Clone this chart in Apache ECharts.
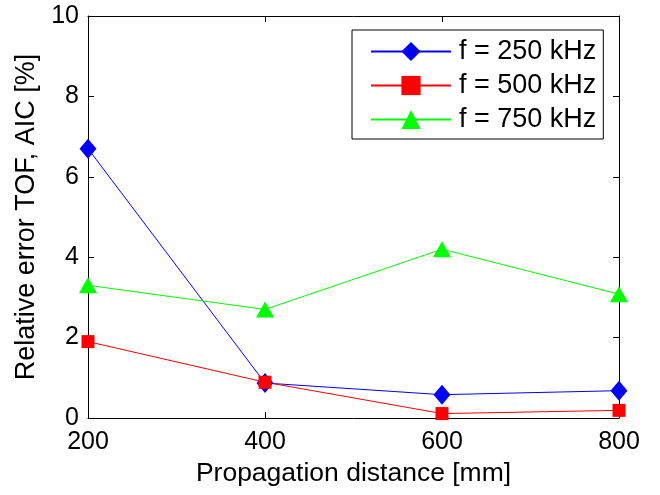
<!DOCTYPE html>
<html>
<head>
<meta charset="utf-8">
<script src="https://cdn.jsdelivr.net/npm/echarts@6/dist/echarts.min.js"></script>
<style>
html, body { margin: 0; padding: 0; background: #fff; }
#chart { width: 660px; height: 495px; }
</style>
</head>
<body>
<div id="chart"></div>
<script>
var distances = [200, 400, 600, 800];
var f250 = [6.7, 0.87, 0.58, 0.68];
var f500 = [1.9, 0.89, 0.11, 0.19];
var f750 = [3.3, 2.7, 4.2, 3.08];
var seriesNames = ['f = 250 kHz', 'f = 500 kHz', 'f = 750 kHz'];

function pairs(vals) {
	return distances.map(function(d, i) {
		return [d, vals[i]];
	});
}

var font = 'Liberation Sans, Arial, sans-serif';
var chart = echarts.init(document.getElementById('chart'));

var axisBase = {
	type: 'value',
	axisLine: { show: true, onZero: false, lineStyle: { color: '#000', width: 1 } },
	axisTick: { show: true, inside: true, length: 6, lineStyle: { color: '#000' } },
	splitLine: { show: false }
};

chart.setOption({
	animation: false,
	backgroundColor: '#fff',
	grid: { left: 88, right: 41, top: 16, bottom: 77 },
	legend: {
		data: seriesNames,
		orient: 'vertical',
		left: 352,
		top: 30,
		itemWidth: 80,
		itemHeight: 24,
		itemGap: 7,
		padding: [8, 7, 6, 18],
		backgroundColor: '#fff',
		borderColor: '#000',
		borderWidth: 1,
		borderRadius: 0,
		textStyle: { fontFamily: font, fontSize: 27, color: '#000', padding: [0, 0, 0, 3] }
	},
	xAxis: [
		Object.assign({}, axisBase, {
			min: 200, max: 800, interval: 200,
			name: 'Propagation distance [mm]',
			nameLocation: 'middle',
			nameGap: 38,
			nameTextStyle: { fontFamily: font, fontSize: 26.5, color: '#000' },
			axisLabel: { fontFamily: font, fontSize: 25, color: '#000', margin: 12 }
		}),
		Object.assign({}, axisBase, {
			position: 'top', min: 200, max: 800, interval: 200,
			axisLabel: { show: false }
		})
	],
	yAxis: [
		Object.assign({}, axisBase, {
			min: 0, max: 10, interval: 2,
			name: 'Relative error TOF, AIC [%]',
			nameLocation: 'middle',
			nameGap: 38,
			nameTextStyle: { fontFamily: font, fontSize: 27, color: '#000' },
			axisLabel: { fontFamily: font, fontSize: 25, color: '#000', margin: 9 }
		}),
		Object.assign({}, axisBase, {
			position: 'right', min: 0, max: 10, interval: 2,
			axisLabel: { show: false }
		})
	],
	series: [
		{
			name: seriesNames[0], type: 'line', data: pairs(f250),
			symbol: 'diamond', symbolSize: [17, 20],
			lineStyle: { color: '#0000ff', width: 1 },
			itemStyle: { color: '#0000ff' }
		},
		{
			name: seriesNames[1], type: 'line', data: pairs(f500),
			symbol: 'rect', symbolSize: 13,
			lineStyle: { color: '#ff0000', width: 1 },
			itemStyle: { color: '#ff0000' }
		},
		{
			name: seriesNames[2], type: 'line', data: pairs(f750),
			symbol: 'triangle', symbolSize: [18, 16],
			lineStyle: { color: '#00ff00', width: 1 },
			itemStyle: { color: '#00ff00' }
		}
	]
});
</script>
</body>
</html>
